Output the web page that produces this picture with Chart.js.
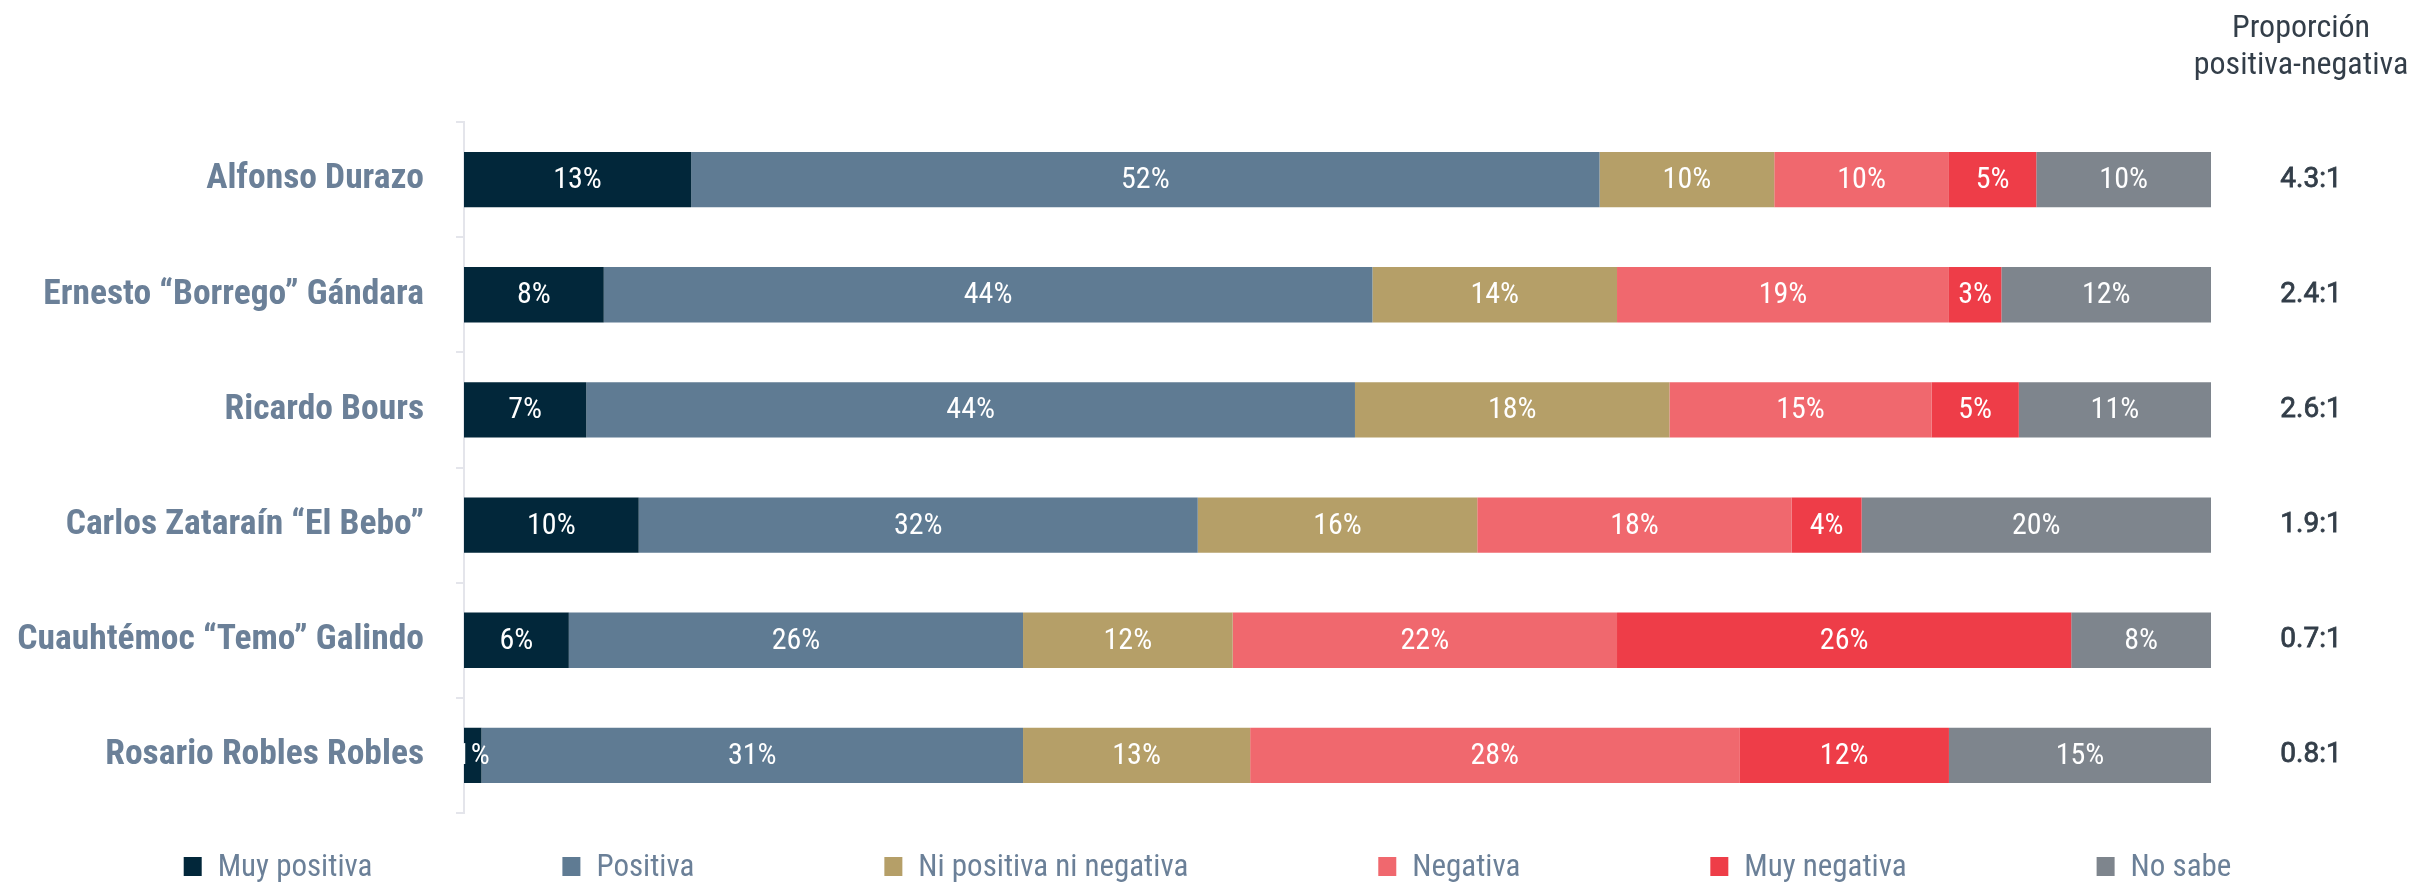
<!DOCTYPE html>
<html lang="es">
<head>
<meta charset="utf-8">
<title>Opinión de aspirantes</title>
<script src="https://cdn.jsdelivr.net/npm/chart.js@4.4.1/dist/chart.umd.min.js"></script>
<style>
  html, body { margin: 0; padding: 0; background: #fff; overflow: hidden; }
  #wrap { position: relative; width: 2415px; height: 882px; }
</style>
</head>
<body>
<div id="wrap"><canvas id="chart"></canvas></div>
<script>
  "use strict";

  // categorías (eje vertical)
  var candidatos = [
    'Alfonso Durazo',
    'Ernesto \u201cBorrego\u201d G\u00e1ndara',
    'Ricardo Bours',
    'Carlos Zatara\u00edn \u201cEl Bebo\u201d',
    'Cuauht\u00e9moc \u201cTemo\u201d Galindo',
    'Rosario Robles Robles'
  ];

  // series (%)
  var muyPositiva = [13, 8, 7, 10, 6, 1];
  var positiva    = [52, 44, 44, 32, 26, 31];
  var niNi        = [10, 14, 18, 16, 12, 13];
  var negativa    = [10, 19, 15, 18, 22, 28];
  var muyNegativa = [5, 3, 5, 4, 26, 12];
  var noSabe      = [10, 12, 11, 20, 8, 15];

  // columna derecha
  var proporcion = ['4.3:1', '2.4:1', '2.6:1', '1.9:1', '0.7:1', '0.8:1'];
  var tituloProporcion = ['Proporci\u00f3n', 'positiva-negativa'];

  var NARROW = "'Roboto Condensed', 'Liberation Sans Narrow', 'Arial Narrow', sans-serif";
  var LABEL_COLOR = '#6b8098';
  var DARK = '#333e49';

  /** porcentajes dentro de cada segmento */
  var segmentLabels = {
    id: 'segmentLabels',
    afterDatasetsDraw: function(chart) {
      var ctx = chart.ctx;
      ctx.save();
      ctx.font = '400 30px ' + NARROW;
      ctx.fillStyle = '#ffffff';
      ctx.textAlign = 'center';
      ctx.textBaseline = 'middle';
      chart.data.datasets.forEach(function(ds, di) {
        var meta = chart.getDatasetMeta(di);
        meta.data.forEach(function(bar, i) {
          var v = ds.data[i];
          if (!v) return;
          ctx.fillText(v + '%', (bar.x + bar.base) / 2, bar.y + 1);
        });
      });
      ctx.restore();
    }
  };

  /** columna "Proporción positiva-negativa" */
  var ratioColumn = {
    id: 'ratioColumn',
    afterDraw: function(chart) {
      var ctx = chart.ctx;
      var area = chart.chartArea;
      var y = chart.scales.y;
      ctx.save();
      ctx.fillStyle = DARK;
      ctx.strokeStyle = DARK;
      ctx.textAlign = 'center';

      ctx.textBaseline = 'alphabetic';
      ctx.font = '400 32px ' + NARROW;
      tituloProporcion.forEach(function(t, i) {
        ctx.fillText(t, area.right + 90, 37 + i * 37);
      });

      // trazo fino para simular peso medio
      ctx.textBaseline = 'middle';
      ctx.font = '400 28px Roboto, sans-serif';
      ctx.lineWidth = 0.8;
      proporcion.forEach(function(t, i) {
        var py = y.getPixelForValue(i);
        ctx.fillText(t, area.right + 100, py);
        ctx.strokeText(t, area.right + 100, py);
      });
      ctx.restore();
    }
  };

  /** leyenda inferior con separación amplia */
  var bottomLegend = {
    id: 'bottomLegend',
    afterDraw: function(chart) {
      var ctx = chart.ctx;
      var box = 18, textGap = 16, gap = 190;
      var baseline = 876;
      ctx.save();
      ctx.font = '400 31px ' + NARROW;
      var items = chart.data.datasets.map(function(ds) {
        return { text: ds.label, color: ds.backgroundColor, w: box + textGap + ctx.measureText(ds.label).width };
      });
      var total = items.reduce(function(s, it) { return s + it.w; }, 0) + gap * (items.length - 1);
      var x = (chart.width - total) / 2;
      ctx.textBaseline = 'alphabetic';
      ctx.textAlign = 'left';
      items.forEach(function(it) {
        ctx.fillStyle = it.color;
        ctx.fillRect(x, baseline - box - 1, box, box + 1);
        ctx.fillStyle = LABEL_COLOR;
        ctx.fillText(it.text, x + box + textGap, baseline);
        x += it.w + gap;
      });
      ctx.restore();
    }
  };

  function serie(label, data, color) {
    return {
      label: label,
      data: data,
      backgroundColor: color,
      borderWidth: 0,
      categoryPercentage: 1,
      barPercentage: 0.48
    };
  }

  new Chart(document.getElementById('chart'), {
    type: 'bar',
    data: {
      labels: candidatos,
      datasets: [
        serie('Muy positiva', muyPositiva, '#02273a'),
        serie('Positiva', positiva, '#5f7b93'),
        serie('Ni positiva ni negativa', niNi, '#b59f68'),
        serie('Negativa', negativa, '#f0686e'),
        serie('Muy negativa', muyNegativa, '#ee3d48'),
        serie('No sabe', noSabe, '#7e858d')
      ]
    },
    options: {
      indexAxis: 'y',
      responsive: true,
      maintainAspectRatio: false,
      animation: false,
      layout: { padding: { left: 0, top: 122, right: 204, bottom: 69 } },
      plugins: {
        legend: { display: false },
        tooltip: { enabled: false }
      },
      scales: {
        x: {
          stacked: true,
          display: false,
          min: 0,
          max: 100
        },
        y: {
          stacked: true,
          afterFit: function(scale) { scale.width = 464; },
          border: { display: true, color: '#e4e5eb', width: 2 },
          grid: {
            drawOnChartArea: false,
            drawTicks: true,
            tickLength: 8,
            color: '#e4e5eb',
            lineWidth: 2
          },
          ticks: {
            padding: 32,
            color: LABEL_COLOR,
            font: { family: NARROW, size: 35.5, weight: 'bold' }
          }
        }
      }
    },
    plugins: [segmentLabels, ratioColumn, bottomLegend]
  });
</script>
</body>
</html>
